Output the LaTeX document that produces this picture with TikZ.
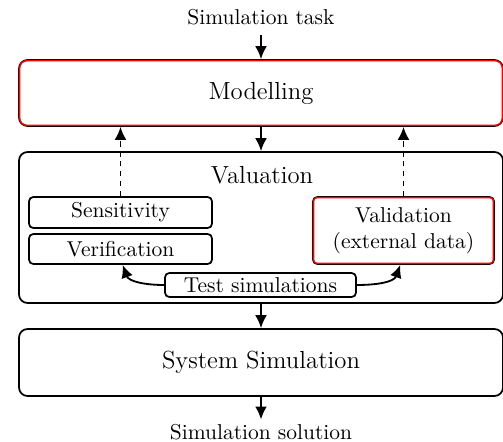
\documentclass[tikz,border=0pt]{standalone}
\usetikzlibrary{arrows.meta}
\begin{document}
\begin{tikzpicture}[x=0.465pt,y=-0.465pt,
  bigbox/.style={draw=black, rounded corners=4pt, line width=0.8pt, minimum width=484*0.465pt, inner sep=0pt, font=\fontsize{11.5}{14}\selectfont},
  smallbox/.style={draw=black, rounded corners=2pt, line width=0.8pt, inner sep=0pt, font=\fontsize{10}{12}\selectfont},
  txt/.style={font=\fontsize{10}{12}\selectfont},
  arr/.style={-{Latex[length=6pt,width=5.5pt]}, line width=0.85pt},
  redin/.style={draw=red, line width=0.65pt}
]
\useasboundingbox (0,0) rectangle (503,442);

\node[txt, inner sep=4.5pt] (task) at (261,17) {Simulation task};
\node[bigbox, minimum height=66*0.465pt] (mod) at (261,93) {Modelling};
\node[bigbox, minimum height=151*0.465pt] (val) at (261,227.5) {};
\node[font=\fontsize{11.5}{14}\selectfont, inner sep=0pt] (valt) at (262,175) {Valuation};
\node[smallbox, minimum width=183*0.465pt, minimum height=31*0.465pt] (sens) at (120.5,212.5) {Sensitivity};
\node[smallbox, minimum width=183*0.465pt, minimum height=30*0.465pt] (ver) at (120.5,249) {Verification};
\node[smallbox, minimum width=181*0.465pt, minimum height=67*0.465pt, align=center] (vld) at (403.5,230.5) {Validation\\(external data)};
\node[smallbox, minimum width=191*0.465pt, minimum height=24*0.465pt] (test) at (260.5,285) {Test simulations};
\node[bigbox, minimum height=67*0.465pt] (sys) at (261,362.5) {System Simulation};
\node[txt, inner sep=2pt] (sol) at (261,432) {Simulation solution};

% red inner outlines
\draw[redin, rounded corners=3.3pt] ([shift={(0.72pt,-0.72pt)}]mod.north west) rectangle ([shift={(-0.72pt,0.72pt)}]mod.south east);
\draw[redin, rounded corners=1.4pt] ([shift={(0.72pt,-0.72pt)}]vld.north west) rectangle ([shift={(-0.72pt,0.72pt)}]vld.south east);

% connectors
\draw[arr] (task.south) -- (mod.north);
\draw[arr] (mod.south) -- (val.north);
\draw[arr] (val.south) -- (sys.north);
\draw[arr] (sys.south) -- (sol.north);
\draw[arr, dash pattern=on 2.6pt off 2pt] (sens.north) -- (sens.north |- mod.south);
\draw[arr, dash pattern=on 2.6pt off 2pt] (vld.north) -- (vld.north |- mod.south);
\draw[arr] (test.west) to[out=180, in=-70] ([xshift=1pt]ver.south);
\draw[arr] (test.east) to[out=0, in=-110] ([xshift=-1.5pt]vld.south);
\end{tikzpicture}
\end{document}
